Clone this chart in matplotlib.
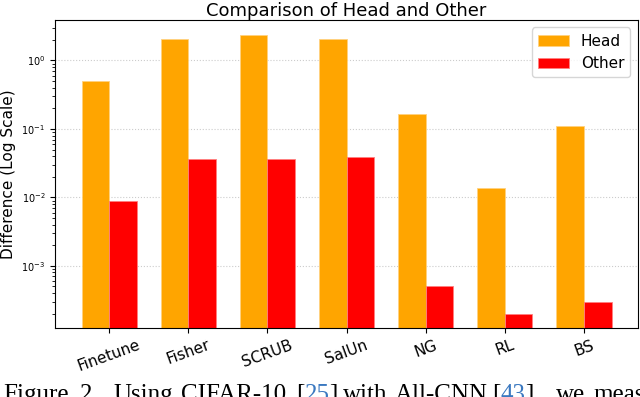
import matplotlib
matplotlib.use("Agg")
import matplotlib.pyplot as plt
import numpy as np

methods = ["Finetune", "Fisher", "SCRUB", "SalUn", "NG", "RL", "BS"]
head = [0.508, 2.08, 2.38, 2.08, 0.166, 0.0138, 0.109]
other = [0.0088, 0.0362, 0.0362, 0.039, 5.1e-4, 2.0e-4, 3.0e-4]

fig = plt.figure(figsize=(6.4, 3.97), dpi=100)
ax = fig.add_axes([0.086, 0.174, 0.911, 0.776])
x = np.arange(len(methods))
w = 0.35
ax.bar(x - w/2, head, w, color="orange", label="Head", edgecolor="#ffd27f", linewidth=0.6)
ax.bar(x + w/2, other, w, color="red", label="Other", edgecolor="#ff7f7f", linewidth=0.6)
ax.set_yscale("log")
ax.set_ylim(1.24e-4, 3.92)
ax.set_xlim(-0.685, 6.685)
ax.set_xticks(x)
ax.set_xticklabels(methods, rotation=20, fontsize=11)
ax.tick_params(axis="y", labelsize=7)
ax.set_ylabel("Difference (Log Scale)", fontsize=11)
ax.set_title("Comparison of Head and Other", fontsize=13, pad=3)
ax.yaxis.grid(True, which="major", linestyle=":", color="#cccccc", linewidth=0.8)
ax.set_axisbelow(True)
ax.legend(loc="upper right", fontsize=11)

# caption (cut off at the bottom edge as in the reference)
blue = "#3a78c0"
caption = [
    (3, [("Figure", "black")]),
    (80, [("2.", "black")]),
    (113, [("Using", "black")]),
    (181, [("CIFAR-10", "black")]),
    (296, [("[", "black"), ("25", blue), ("]", "black")]),
    (343, [("with", "black")]),
    (395, [("All-CNN", "black")]),
    (492, [("[", "black"), ("43", blue), ("],", "black")]),
    (556, [("we", "black")]),
    (593, [("measure", "black")]),
]
renderer = fig.canvas.get_renderer()
W = fig.bbox.width
for xpix, runs in caption:
    xp = xpix / W
    for s, c in runs:
        t = fig.text(xp, -0.0113, s, fontsize=18, family="Liberation Serif",
                     color=c, va="baseline", ha="left")
        bb = t.get_window_extent(renderer=renderer)
        xp += bb.width / W
fig.savefig("out.png", dpi=100)
